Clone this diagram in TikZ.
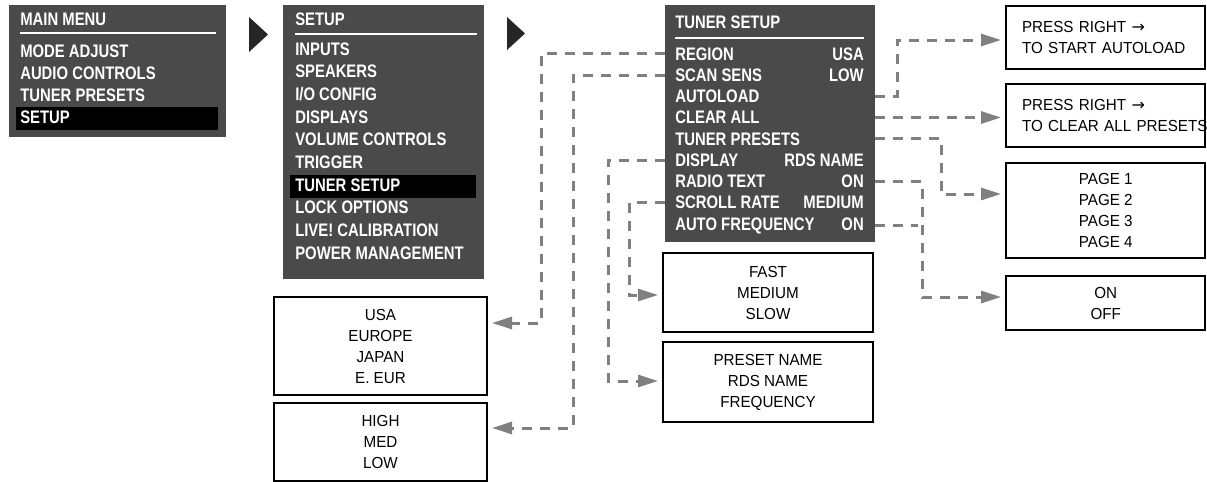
\documentclass[tikz,border=0pt]{standalone}
\usepackage{fontspec}
\setmainfont{Liberation Sans}[FakeStretch=0.95]
\newfontfamily\menufont{Liberation Sans}[FakeStretch=0.82]
\newfontfamily\arrowfont{DejaVu Sans}
\usepackage{tikz}
\usetikzlibrary{arrows.meta, calc}
\definecolor{panelgray}{RGB}{74,74,74}
\definecolor{linkgray}{RGB}{128,128,128}
\newcommand{\rightkey}{{\arrowfont →}}

\tikzset{
    panel/.style={fill=panelgray, inner sep=0pt},
    menuitem/.style={anchor=base west, inner sep=0pt, text=white,
        font=\menufont\bfseries\fontsize{13.6pt}{16pt}\selectfont},
    menuvalue/.style={menuitem, anchor=base east},
    titlerule/.style={white, line width=2pt},
    optbox/.style={draw, line width=1.5pt, align=center, inner sep=0pt,
        font=\fontsize{12pt}{15.75pt}\selectfont},
    rightbox/.style={optbox, align=left, inner xsep=12pt, text width=125.6pt,
        minimum width=149.6pt},
    link/.style={draw=linkgray, line width=2.25pt, dash pattern=on 7.5pt off 6pt,
        -{Triangle[length=15pt, width=9pt]}, shorten >=3pt},
}

\begin{document}
\begin{tikzpicture}[x=0.75pt, y=-0.75pt]
    \useasboundingbox (0,0) rectangle (1207,482);

    % Menu panels
    \node[panel, minimum width=162.75pt, minimum height=99pt] (mainpanel) at (117.5,71) {};
    \node[panel, minimum width=150.75pt, minimum height=205.5pt] (setuppanel) at (383.5,142) {};
    \node[panel, minimum width=157.5pt, minimum height=177.75pt] (tunerpanel) at (770,123.5) {};

    % Selected rows
    \fill[black] (16,107) rectangle (218,130);
    \fill[black] (290,175) rectangle (476,198);

    % Rules under the titles
    \draw[titlerule] (20,33) -- (216,33);
    \draw[titlerule] (295,34) -- (477,34);
    \draw[titlerule] (675,38) -- (864,38);

    % Arrows between the menus
    \fill[black!85] (249,17) -- (249,52) -- (268,34.5) -- cycle;
    \fill[black!85] (507,17) -- (507,50) -- (525,33.5) -- cycle;

    % Main menu
    \node[menuitem] (maintitle) at (20,25) {MAIN MENU};
    \node[menuitem] (modeadjust) at (20,57) {MODE ADJUST};
    \node[menuitem] (audioctrl) at (20,79) {AUDIO CONTROLS};
    \node[menuitem] (mainpresets) at (20,101) {TUNER PRESETS};
    \node[menuitem] (setupitem) at (20,123) {SETUP};

    % Setup menu
    \node[menuitem] (setuptitle) at (295,25) {SETUP};
    \node[menuitem] (inputs) at (295,55) {INPUTS};
    \node[menuitem] (speakers) at (295,77.7) {SPEAKERS};
    \node[menuitem] (ioconfig) at (295,100.3) {I/O CONFIG};
    \node[menuitem] (displays) at (295,123) {DISPLAYS};
    \node[menuitem] (volume) at (295,145.7) {VOLUME CONTROLS};
    \node[menuitem] (trigger) at (295,168.3) {TRIGGER};
    \node[menuitem] (tuneritem) at (295,191) {TUNER SETUP};
    \node[menuitem] (lockopt) at (295,213.7) {LOCK OPTIONS};
    \node[menuitem] (livecal) at (295,236.3) {LIVE! CALIBRATION};
    \node[menuitem] (powermgmt) at (295,259) {POWER MANAGEMENT};

    % Tuner setup menu
    \node[menuitem] (tunertitle) at (675,28) {TUNER SETUP};
    \node[menuitem] (region) at (675,60) {REGION};
    \node[menuvalue] (regionval) at (864,60) {USA};
    \node[menuitem] (scansens) at (675,81.25) {SCAN SENS};
    \node[menuvalue] (scansensval) at (864,81.25) {LOW};
    \node[menuitem] (autoload) at (675,102.5) {AUTOLOAD};
    \node[menuitem] (clearall) at (675,123.75) {CLEAR ALL};
    \node[menuitem] (presets) at (675,145) {TUNER PRESETS};
    \node[menuitem] (display) at (675,166.25) {DISPLAY};
    \node[menuvalue] (displayval) at (864,166.25) {RDS NAME};
    \node[menuitem] (radiotext) at (675,187.5) {RADIO TEXT};
    \node[menuvalue] (radiotextval) at (864,187.5) {ON};
    \node[menuitem] (scrollrate) at (675,208.75) {SCROLL RATE};
    \node[menuvalue] (scrollrateval) at (864,208.75) {MEDIUM};
    \node[menuitem] (autofreq) at (675,230) {AUTO FREQUENCY};
    \node[menuvalue] (autofreqval) at (864,230) {ON};

    % Option boxes
    \node[rightbox, minimum height=47.25pt] (autoloadbox) at (1105.75,37.5)
        {\mbox{PRESS RIGHT \rightkey}\\\mbox{TO START AUTOLOAD}};
    \node[rightbox, minimum height=47.25pt] (clearbox) at (1105.75,115.5)
        {\mbox{PRESS RIGHT \rightkey}\\\mbox{TO CLEAR ALL PRESETS}};
    \node[optbox, minimum width=149.6pt, minimum height=71.6pt] (pagebox) at (1105.75,210.75)
        {PAGE 1\\PAGE 2\\PAGE 3\\PAGE 4};
    \node[optbox, minimum width=149.6pt, minimum height=40.5pt] (onoffbox) at (1105.75,303)
        {ON\\OFF};
    \node[optbox, minimum width=157.5pt, minimum height=59.25pt] (ratebox) at (768,292.5)
        {FAST\\MEDIUM\\SLOW};
    \node[optbox, minimum width=157.5pt, minimum height=60pt] (displaybox) at (768,382)
        {PRESET NAME\\RDS NAME\\FREQUENCY};
    \node[optbox, minimum width=159.75pt, minimum height=73.5pt] (regionbox) at (380.5,346)
        {USA\\EUROPE\\JAPAN\\E. EUR};
    \node[optbox, minimum width=159.75pt, minimum height=58.5pt] (sensbox) at (380.5,442)
        {HIGH\\MED\\LOW};

    % Bends of the dashed links
    \coordinate (regionbend) at (541,323);
    \coordinate (sensbend) at (573,428);
    \coordinate (displaybend) at (608,381);
    \coordinate (ratebend) at (629,295);
    \coordinate (autoloadbend) at (897,40);
    \coordinate (pagebend) at (941,194);
    \coordinate (onoffbend) at (922,297);

    % Links, left side
    \draw[link] (tunerpanel.west |- region) -| (regionbend) -- (regionbox.east |- regionbend);
    \draw[link] (tunerpanel.west |- scansens) -| (sensbend) -- (sensbox.east |- sensbend);
    \draw[link] (tunerpanel.west |- display) -| (displaybend) -- (displaybox.west |- displaybend);
    \draw[link] (tunerpanel.west |- scrollrate) -| (ratebend) -- (ratebox.west |- ratebend);

    % Links, right side
    \draw[link] (tunerpanel.east |- autoload) -| (autoloadbend) -- (autoloadbox.west |- autoloadbend);
    \draw[link] (tunerpanel.east |- clearall) -- (clearbox.west |- clearall);
    \draw[link] (tunerpanel.east |- presets) -| (pagebend) -- (pagebox.west |- pagebend);
    \draw[link] (tunerpanel.east |- radiotext) -| (onoffbend) -- (onoffbox.west |- onoffbend);
    \draw[link, -] (tunerpanel.east |- autofreq) -- (onoffbend |- autofreq);
\end{tikzpicture}
\end{document}
